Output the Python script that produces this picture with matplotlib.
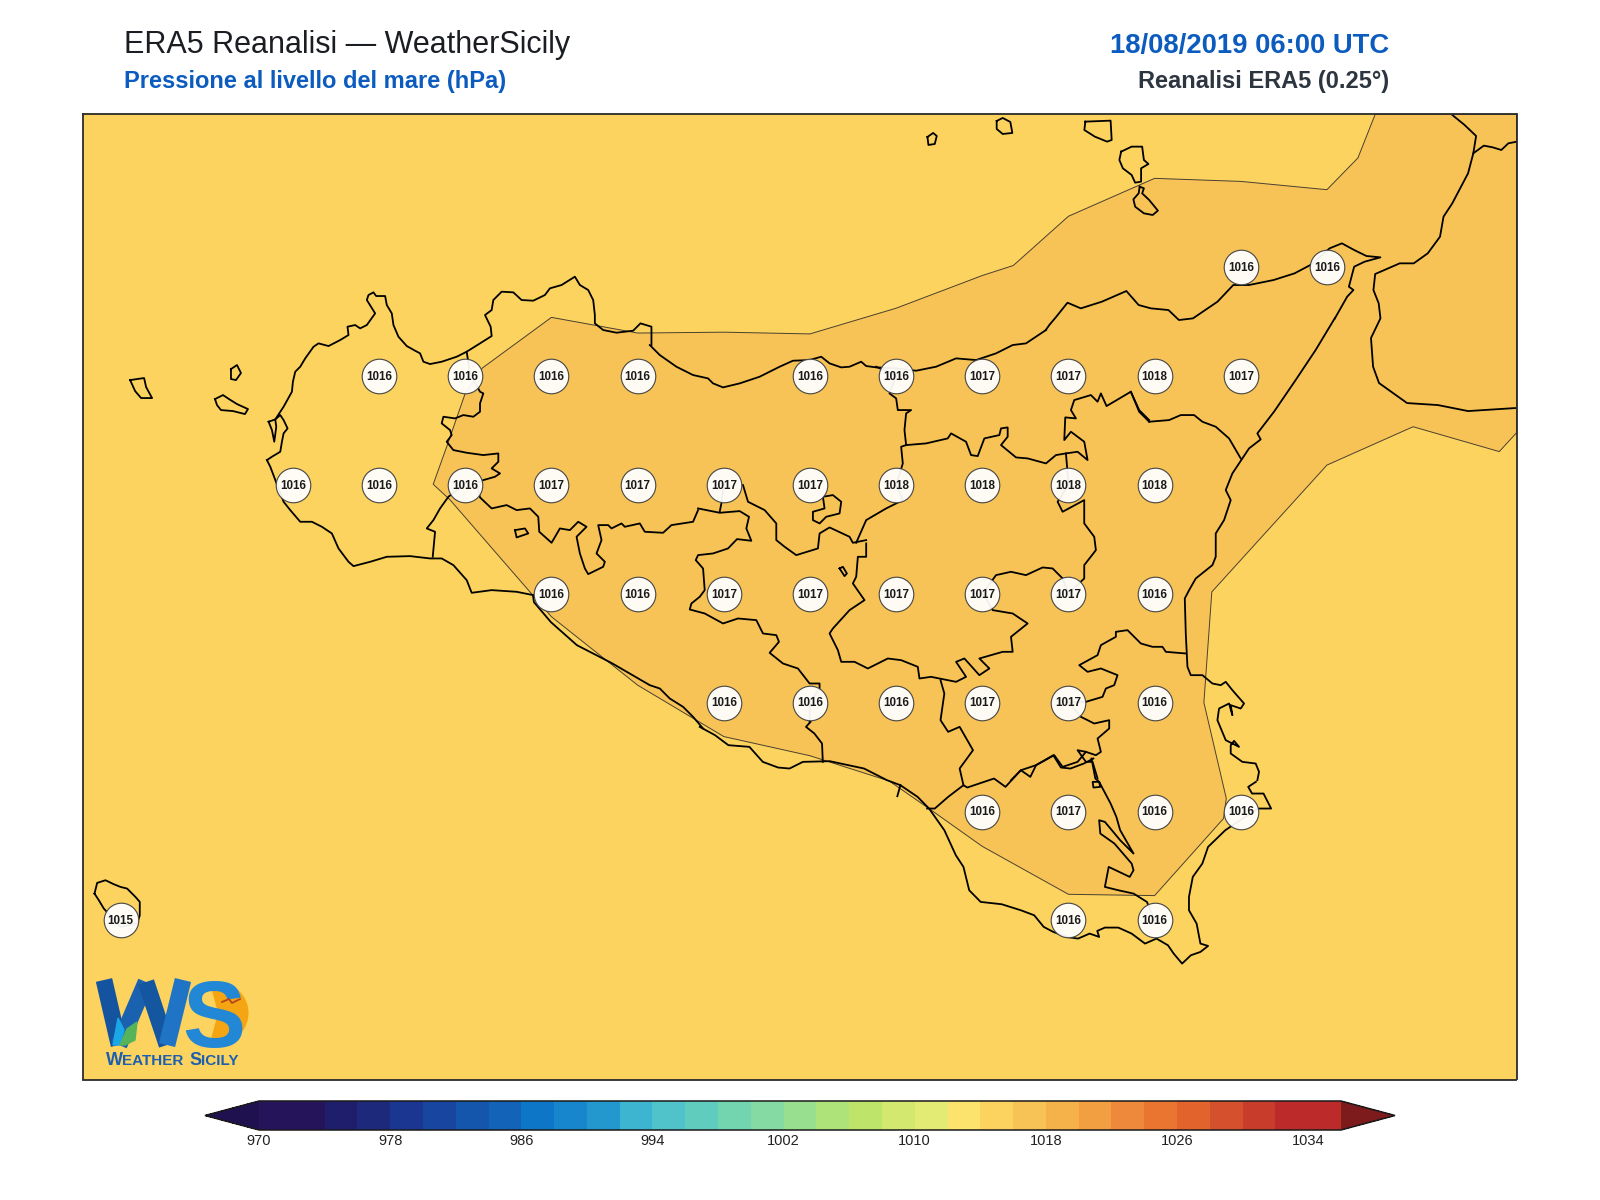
import matplotlib
matplotlib.use("Agg")
import matplotlib.pyplot as plt
from matplotlib.colors import ListedColormap, BoundaryNorm
from matplotlib.cm import ScalarMappable
from matplotlib.patches import Wedge

plt.rcParams['font.family'] = ['Liberation Sans', 'DejaVu Sans']

# pressure read at the ERA5 grid points: (lat, lons, values)
LAT_3825 = [15.25, 15.5]
VAL_3825 = [1016, 1016]
LAT_3800 = [12.75, 13.0, 13.25, 13.5, 14.0, 14.25, 14.5, 14.75, 15.0, 15.25]
VAL_3800 = [1016, 1016, 1016, 1016, 1016, 1016, 1017, 1017, 1018, 1017]
LAT_3775 = [12.5, 12.75, 13.0, 13.25, 13.5, 13.75, 14.0, 14.25, 14.5, 14.75, 15.0]
VAL_3775 = [1016, 1016, 1016, 1017, 1017, 1017, 1017, 1018, 1018, 1018, 1018]
LAT_3750 = [13.25, 13.5, 13.75, 14.0, 14.25, 14.5, 14.75, 15.0]
VAL_3750 = [1016, 1016, 1017, 1017, 1017, 1017, 1017, 1016]
LAT_3725 = [13.75, 14.0, 14.25, 14.5, 14.75, 15.0]
VAL_3725 = [1016, 1016, 1016, 1017, 1017, 1016]
LAT_3700 = [14.5, 14.75, 15.0, 15.25]
VAL_3700 = [1016, 1017, 1016, 1016]
LAT_3675 = [12.0, 14.75, 15.0]
VAL_3675 = [1015, 1016, 1016]

# colour scale of the bar, one colour per 2 hPa band
levels = list(range(970, 1038, 2))
cbar_ticks = list(range(970, 1036, 8))
band_colors = ['#26145A', '#26145A', '#1F1E6C', '#1D2A7B', '#1A3690', '#1745A0', '#1556AD', '#1364B8',
               '#0D76C6', '#1886CC', '#2298CE', '#3DB5D0', '#50C2CA', '#5FCCBE', '#72D5B0', '#84DAA2',
               '#98DF8F', '#AEE37A', '#BEE46A', '#D2E86F', '#E4EB74', '#FCE36E', '#FCD35F', '#F7C356',
               '#F5B24A', '#F29F42', '#EE883A', '#E97530', '#E2632C', '#D5502C', '#C83C2C', '#BC2A2A',
               '#BC2A2A']

# outline of the 1016-1018 hPa area (lon, lat)
zone_lon = [15.64, 15.59, 15.5, 15.25, 15.0, 14.75, 14.59, 14.5, 14.25, 14.0, 13.75, 13.5, 13.25, 13.05,
            13.0, 12.946, 12.907, 12.956, 13.25, 13.5, 13.75, 14.0, 14.23, 14.345, 14.5, 14.75, 15.0,
            15.2, 15.208, 15.143, 15.166, 15.5, 15.75, 16.0, 16.05, 16.05]
zone_lat = [38.6, 38.5, 38.427, 38.446, 38.453, 38.366, 38.253, 38.23, 38.155, 38.096, 38.1, 38.098, 38.134,
            38.018, 37.96, 37.837, 37.751, 37.715, 37.447, 37.29, 37.172, 37.128, 37.07, 37.007, 36.92,
            36.81, 36.807, 36.984, 37.03, 37.25, 37.504, 37.795, 37.883, 37.826, 37.869, 38.6]

# coast and province lines, crop by crop
COAST_NW = [(50,600),(65,590),(90,575),(95,545),(100,520),(112,505),(100,480),(90,465),(75,478),(100,440),
            (125,395),(128,365),(135,335),(150,320),(165,295),(190,260),(205,250),(235,258),(270,240),(295,225),
            (292,200),(315,195),(330,205),(350,195),(375,160),(350,120),(355,105),(370,97),(378,108),(405,108),
            (410,135),(425,160),(430,195),(445,230),(470,258),(495,272),(510,280),(520,305),(540,312),(575,305),
            (620,290),(650,275),(690,250),(725,228),(722,200),(705,165),(725,150),(730,120),(755,95),(790,97),
            (815,120),(850,122),(885,105),(900,85),(935,75),(975,50),(990,75),(1015,90),(1030,120),(1035,165),
            (1035,190),(1060,210),(1100,218),(1150,212),(1172,190),(1205,200),(1205,255)]
COAST_N = [(0,45),(30,75),(80,110),(130,135),(175,145),(190,160),(220,172),(270,160),(330,140),(390,110),(430,92),
           (480,90),(515,80),(540,100),(575,112),(600,110),(635,95),(650,108),(680,112),(740,115),(800,122),
           (860,110),(920,85),(980,90),(1040,70),(1090,45),(1130,40),(1190,0)]
COAST_NE = [(-10,990),(0,975),(20,950),(52,908),(90,925),(150,905),(220,873),(255,915),(290,925),(340,930),(370,960),
            (410,955),(480,905),(525,855),(570,855),(640,840),(700,820),(745,795),(800,745),(835,730),(870,750),
            (905,768),(945,772),(900,785),(870,800),(855,860),(868,870),(850,890),(815,955)]
COAST_E = [(1008,-186),(950,-90),(890,0),(825,95),(775,160),(785,178),(750,205),(730,235),(700,280),(680,330),(695,360),(675,420),
           (650,460),(650,530),(640,555),(590,595),(570,630),(557,655),(560,760),(565,860),(575,885),(610,885),
           (640,910),(665,915),(680,905),(700,930),(735,970),(725,985),(695,975),(700,1005),(690,970),(660,985),
           (655,1020),(680,1080),(700,1090),(720,1100),(705,1082),(695,1095),(695,1120),(730,1145),(770,1150),
           (780,1175),(775,1200)]
COAST_SE = [(1455,305),(1435,320),(1445,340),(1475,340),(1495,385),(1460,385),(1375,450),(1330,500),(1315,550),
            (1290,590),(1280,650),(1280,690),(1300,730),(1310,790),(1330,797),(1310,815),(1285,825),(1262,850),
            (1240,820),(1225,795),(1195,775),(1165,790),(1130,760),(1095,742),(1060,742),(1040,752),(1045,770),
            (1020,760),(990,775),(960,770),(925,755),(900,740),(875,705),(840,690),(790,672),(735,665),(705,630),
            (690,560),(670,525),(640,450),(600,385),(570,350),(525,315),(490,300),(430,265),(340,243),(270,245),
            (235,265),(205,262),(165,245),(130,200),(75,195),(40,165),(0,140)]
COAST_S = [(160,1195),(130,1160),(100,1130),(60,1105),(30,1075),(0,1065),(-114,999),(-219,945),(-297,876),
           (-348,816),(-351,795)]
COAST_SW = [(850,1005),(800,995),(725,990),(665,998),(650,960),(610,915),(575,895),(540,895),(480,888),(410,890),
            (360,905),(310,918),(295,905),(265,865),(245,820),(215,800),(185,785),(150,785),(120,750),(100,725),
            (60,620),(50,600)]
CALABRIA = [(1150,345),(1185,375),(1218,408),(1210,460),(1195,520),(1170,570),(1150,610),(1125,650),(1115,710),
            (1080,760),(1040,790),(1000,790),(930,822),(925,870),(940,910),(945,955),(918,1014),(924,1100),
            (941,1149),(1021,1209),(1109,1215),(1195,1233),(1329,1224)]
CALABRIA_IN = [(1210,460),(1240,437),(1265,442),(1290,450),(1310,430),(1335,425)]

SALINA = [(103,365),(175,362),(178,420),(165,425),(130,410),(100,390),(103,365)]
LIPARI = [(205,455),(235,440),(265,440),(270,480),(283,492),(262,505),(262,545),(245,548),(235,525),(210,505),
          (200,480),(205,455)]
VULCANO = [(258,560),(270,565),(265,580),(285,600),(310,632),(295,645),(270,640),(245,620),(240,598),(255,580),
           (258,560)]
FILICUDI = [(838,351),(856,342),(879,354),(885,387),(856,390),(838,375),(838,351)]
ALICUDI = [(-225,396),(-208,384),(-197,393),(-203,417),(-222,420),(-225,396)]
PANTELLERIA = [(72,100),(80,68),(105,60),(130,72),(150,80),(170,85),(195,110),(208,125),(208,165),(200,190),
               (150,200),(100,145),(85,120),(72,100)]
MARETTIMO = [(-370,330),(-328,324),(-322,351),(-304,384),(-337,384),(-355,363),(-370,330)]
FAVIGNANA = [(-121,393),(-97,381),(-79,393),(-55,408),(-22,423),(-31,438),(-67,429),(-103,426),(-115,411),(-121,393)]
LEVANZO = [(-73,303),(-55,291),(-43,315),(-58,336),(-73,333),(-73,303)]
LAKE_A = [(795,810),(825,805),(835,820),(800,832),(795,810)]
LAKE_B = [(570,715),(580,710),(592,730),(585,738),(570,715)]
STAGNONE = [(55,485),(75,478),(78,500),(72,545),(65,510),(55,485)]

TP_PA = [(650,275),(660,340),(690,395),(700,400),(690,430),(690,455),(670,470),(640,465),(615,475),(580,470),
         (575,490),(600,510),(605,525),(590,545),(610,570),(650,578),(700,585),(745,580),(745,605),(725,625),
         (750,640),(735,650),(700,660),(680,670),(690,712),(725,745),(770,735),(800,750),(840,745),(865,770),
         (868,815),(905,848),(930,805),(960,810),(985,785),(1010,800),(980,830),(990,880),(1005,925),(1015,942),
         (1060,920),(1065,905),(1040,880),(1055,840),(1045,795),(1075,795),(1085,805),(1115,790),(1125,800),
         (1170,790),(1185,815),(1240,818),(1265,795),(1330,785),(1345,750)]
TP_AG = [(645,672),(595,710),(570,745),(550,780),(530,805),(555,815),(548,890)]
AG_CL = [(145,535),(210,548),(270,543),(298,560),(290,595),(305,632),(262,627),(235,655),(190,670),(145,675),
         (138,690),(160,715),(165,780),(150,800),(125,820),(120,838),(165,850),(220,880),(265,865),(320,870),
         (340,910),(380,915),(388,935),(360,968),(400,1000),(445,1015),(480,1060),(510,1060),(510,1075),(481,1115),
         (480,1175)]
PA_CL = [(222,465),(215,520),(210,545)]
PA_CL2 = [(280,465),(295,515),(345,540),(380,580),(380,630),(405,650),(440,675),(505,655),(510,610),(540,592),
          (600,620),(610,638),(650,630)]
CL_EN = [(650,640),(650,680),(625,680),(620,740),(610,760),(645,810),(600,840),(550,895),(540,910),(565,960),
         (575,995),(615,995),(655,1015),(715,985),(755,990),(805,1010),(810,1045),(845,1040),(920,1055),(950,1040),
         (920,995),(945,985),(990,1035),(1020,1015),(990,985),(1060,965),(1090,965),(1085,920),(1135,880),(1090,850),
         (1030,840),(1000,790),(1040,735),(1085,725),(1130,735),(1180,712),(1210,715),(1240,745),(1258,790),(1305,745),
         (1305,705),(1340,660),(1335,620),(1305,580),(1305,510),(1240,545),(1225,515),(1258,465),(1250,370)]
PA_EN = [(620,638),(650,570),(710,535),(760,510),(740,465),(760,400),(755,350),(770,345)]
PA_ME = [(770,345),(765,300),(770,250),(785,240),(745,240),(740,205),(720,190),(740,137),(680,110)]
ME_EN = [(770,345),(830,340),(895,325),(905,310),(950,335),(965,375),(985,378),(1005,325),(1050,315),(1055,295),
         (1075,292),(1075,320),(1055,345),(1100,382),(1135,385),(1190,400),(1220,375),(1250,370),(1285,365),(1315,390),
         (1305,335),(1265,305),(1245,330),(1248,262),(1280,265),(1265,240),(1275,210),(1325,195),(1345,215),(1355,190),
         (1372,228),(1445,185),(1470,240),(1500,270)]
ME_CT = [(450,125),(510,120),(545,105),(585,105),(610,125),(650,140),(690,175),(725,235)]
ME_CT2 = [(395,35),(420,95),(450,125)]
ENCLAVE = [(520,500),(550,495),(575,515),(570,550),(530,560),(510,580),(490,570),(490,545),(525,535),(520,500)]
CT_SR = [(560,820),(500,815),(490,800),(460,800),(425,790),(385,750),(350,755),(350,770),(305,795),(295,825),
         (240,855),(265,875),(305,865),(355,885),(345,915),(320,925),(310,950),(260,965),(208,967),(245,1010),
         (285,1030),(330,1020),(330,1045),(295,1075),(305,1115),(290,1125),(260,1115),(235,1110),(260,1145),(280,1145),
         (295,1195)]
CT_RG = [(260,1115),(235,1145),(190,1160),(165,1125),(110,1155),(65,1170),(35,1200)]
RG_CL = [(1030,235),(1005,250),(970,265),(945,262),(925,225),(880,255),(865,290),(840,270),(800,320),(770,295),
         (700,322),(690,315),(650,350),(615,385),(595,385)]
CL_RG2 = [(630,0),(640,40),(630,120),(650,155),(680,140),(715,210),(680,265),(690,315)]
RG_SR = [(1025,235),(1035,295),(1045,305),(1048,320),(1030,322),(1028,305),(1045,305),(1075,370),(1090,410),(1100,450),
         (1135,520),(1100,480),(1060,425),(1045,420),(1048,460),(1085,490),(1130,550),(1135,570),(1125,590),(1070,560),
         (1060,620),(1095,630),(1135,640),(1170,665),(1190,720)]
AG_COAST = [(290,125),(278,140),(300,160),(320,190),(322,245)]
COAST_TICK = [(525,315),(517,348)]


def to_lonlat(points, ox, oy, sx=3.0, sy=3.0):
    # crop position -> picture pixel -> lon/lat
    lons, lats = [], []
    for x, y in points:
        px, py = ox + x / sx, oy + y / sy
        lons.append(12.5 + (px - 292.7) / 345.1)
        lats.append(38.0 - (py - 375.7) / 435.6)
    return lons, lats


# (trace, crop x, crop y, scale x, scale y)
outlines = [(COAST_NW, 250, 260, 3, 3), (COAST_N, 650, 330, 3, 3), (COAST_NE, 1050, 0, 2.85, 3),
            (COAST_E, 1000, 380, 3, 3), (COAST_SE, 700, 680, 2.613, 3), (COAST_S, 650, 330, 3, 3),
            (COAST_SW, 250, 260, 3, 3), (CALABRIA, 1050, 0, 2.85, 3), (CALABRIA_IN, 1050, 0, 2.85, 3),
            (SALINA, 1050, 0, 2.85, 3), (LIPARI, 1050, 0, 2.85, 3), (VULCANO, 1050, 0, 2.85, 3),
            (FILICUDI, 718, 4, 3, 3), (ALICUDI, 1003, 5, 3, 3), (PANTELLERIA, 70, 860, 3, 3),
            (MARETTIMO, 253, 270, 3, 3), (FAVIGNANA, 255, 268, 3, 3), (LEVANZO, 255, 268, 3, 3),
            (LAKE_A, 250, 260, 3, 3), (LAKE_B, 650, 330, 3, 3), (STAGNONE, 250, 260, 3, 3),
            (TP_PA, 250, 260, 3, 3), (TP_AG, 250, 260, 3, 3), (AG_CL, 650, 330, 3, 3),
            (PA_CL, 650, 330, 3, 3), (PA_CL2, 650, 330, 3, 3), (CL_EN, 650, 330, 3, 3),
            (PA_EN, 650, 330, 3, 3), (PA_ME, 650, 330, 3, 3), (ME_EN, 650, 330, 3, 3),
            (ME_CT, 1000, 380, 3, 3), (ME_CT2, 1000, 380, 3, 3), (ENCLAVE, 650, 330, 3, 3),
            (CT_SR, 1000, 380, 3, 3), (CT_RG, 1000, 380, 3, 3), (RG_CL, 700, 680, 2.613, 3),
            (CL_RG2, 700, 680, 2.613, 3), (RG_SR, 700, 680, 2.613, 3), (AG_COAST, 700, 680, 2.613, 3),
            (COAST_TICK, 700, 680, 2.613, 3)]

cmap = ListedColormap(band_colors)
cmap.set_under('#1F1150')
cmap.set_over('#7D1A1C')
norm = BoundaryNorm(levels, cmap.N)

fig = plt.figure(figsize=(16, 12), dpi=100)
ax = fig.add_axes([82.7 / 1600, 1 - 1079.5 / 1200, 1433.8 / 1600, 965.2 / 1200])
ax.set_xlim(11.89, 16.05)
ax.set_ylim(36.385, 38.6)
ax.set_xticks([])
ax.set_yticks([])
ax.set_facecolor(cmap(norm(1015)))
for spine in ax.spines.values():
    spine.set_linewidth(1.3)
    spine.set_color('#2b2b2b')

ax.fill(zone_lon, zone_lat, facecolor=cmap(norm(1017)), edgecolor='#4a4030', linewidth=0.7, zorder=1)

for trace, ox, oy, sx, sy in outlines:
    lons, lats = to_lonlat(trace, ox, oy, sx, sy)
    ax.plot(lons, lats, color='black', linewidth=1.3, solid_joinstyle='round', zorder=2)

rows = [(38.25, LAT_3825, VAL_3825), (38.0, LAT_3800, VAL_3800), (37.75, LAT_3775, VAL_3775),
        (37.5, LAT_3750, VAL_3750), (37.25, LAT_3725, VAL_3725), (37.0, LAT_3700, VAL_3700),
        (36.75, LAT_3675, VAL_3675)]
for lat, lons, vals in rows:
    ax.scatter(lons, [lat] * len(lons), s=620, facecolors=(1, 1, 1, 0.94), edgecolors='#454545',
               linewidths=0.8, zorder=3)
    for lon, val in zip(lons, vals):
        ax.text(lon, lat - 0.002, str(val), ha='center', va='center', fontsize=8.4, fontweight='bold',
                color='#1a1a1a', zorder=4)

# titles
fig.text(123.5 / 1600, 1 - 53 / 1200, 'ERA5 Reanalisi — WeatherSicily', fontsize=22, color='#1a1d22',
         ha='left', va='baseline')
fig.text(123.5 / 1600, 1 - 88 / 1200, 'Pressione al livello del mare (hPa)', fontsize=17, fontweight='bold',
         color='#0B5CBE', ha='left', va='baseline')
fig.text(1389 / 1600, 1 - 53 / 1200, '18/08/2019 06:00 UTC', fontsize=19.8, fontweight='bold', color='#0B5CBE',
         ha='right', va='baseline')
fig.text(1389 / 1600, 1 - 88 / 1200, 'Reanalisi ERA5 (0.25°)', fontsize=17, fontweight='bold', color='#2D3540',
         ha='right', va='baseline')

# colour bar, the axes spans the two end arrows
cax = fig.add_axes([205 / 1600, 1 - 1130 / 1200, 1190 / 1600, 29 / 1200])
cbar = fig.colorbar(ScalarMappable(norm=norm, cmap=cmap), cax=cax, orientation='horizontal', extend='both',
                    spacing='uniform', ticks=cbar_ticks)
cbar.minorticks_off()
cbar.ax.tick_params(length=0, labelsize=10.5, pad=3, colors='#222222')
cbar.ax.set_xticklabels([str(t) for t in cbar_ticks])
cbar.outline.set_linewidth(1.1)
cbar.outline.set_edgecolor('#1a1a1a')

# WS logo, drawn in picture pixels
logo = fig.add_axes([90 / 1600, 1 - 1075 / 1200, 170 / 1600, 100 / 1200])
logo.set_xlim(90, 260)
logo.set_ylim(1075, 975)
logo.axis('off')
logo.add_patch(Wedge((218, 1013), 30.5, -105, 105, facecolor='#F5A512', edgecolor='none', zorder=1))
logo.plot([104, 119], [980, 1045], color='#14539F', linewidth=12, solid_capstyle='butt', zorder=2)
logo.plot([119, 146], [1045, 982], color='#1A62B0', linewidth=12, solid_capstyle='butt', zorder=2)
logo.plot([146, 167], [982, 1045], color='#14569F', linewidth=12, solid_capstyle='butt', zorder=2)
logo.plot([167, 183], [1045, 980], color='#1F74C6', linewidth=12, solid_capstyle='butt', zorder=2)
logo.fill([113, 118, 124, 120], [1045, 1018, 1030, 1045], color='#1BA6E8', zorder=3)
logo.fill([120, 127, 137, 135, 125], [1045, 1029, 1022, 1040, 1045], color='#55B35A', zorder=3)
logo.text(214, 1047, 'S', fontsize=68, fontweight='bold', color='#2288D6', ha='center', va='baseline', zorder=4)
logo.plot([222, 229, 232, 240], [1002, 999, 1003, 999], color='#B5451B', linewidth=1.3, zorder=5)
# small capitals of the wordmark
for label, left, size in [('W', 106, 13), ('EATHER', 122, 11), ('S', 189, 13), ('ICILY', 201, 11)]:
    logo.text(left, 1065, label, fontsize=size, fontweight='bold', color='#1C5FAE', ha='left', va='baseline',
              zorder=5)

plt.savefig('out.png', dpi=100)
